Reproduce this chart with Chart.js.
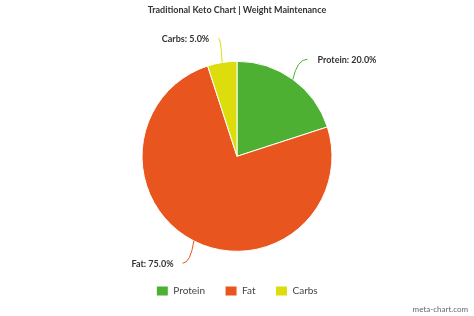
<!DOCTYPE html>
<html>
<head>
<meta charset="utf-8">
<script src="https://cdn.jsdelivr.net/npm/chart.js@4/dist/chart.umd.min.js"></script>
<style>
  html, body { margin: 0; padding: 0; background: #fff; }
  #wrap { position: relative; width: 474px; height: 316px; }
</style>
</head>
<body>
<div id="wrap"><canvas id="keto"></canvas></div>
<script>
const labels = ['Protein', 'Fat', 'Carbs'];
const values = [20, 75, 5];
const colors = ['#4db033', '#e9551e', '#dddd0d'];
const chartTitle = 'Traditional Keto Chart | Weight Maintenance';
const credit = 'meta-chart.com';

const total = values.reduce((a, b) => a + b);

// curved callout labels around the pie
const outLabels = {
    id: 'outLabels',
    afterDatasetsDraw(chart) {
        const ctx = chart.ctx;
        const arcs = chart.getDatasetMeta(0).data;
        ctx.save();
        ctx.font = 'bold 9px Lato';
        ctx.textBaseline = 'middle';
        arcs.forEach(function(arc, i) {
            const p = arc.getProps(['x', 'y', 'startAngle', 'endAngle', 'outerRadius'], true);
            const mid = (p.startAngle + p.endAngle) / 2;
            const x0 = p.x + Math.cos(mid) * p.outerRadius;
            const y0 = p.y + Math.sin(mid) * p.outerRadius;
            const x2 = p.x + Math.cos(mid) * (p.outerRadius + 25);
            const y2 = p.y + Math.sin(mid) * (p.outerRadius + 25);
            const cx = x0 + (x2 - x0) * 0.3;
            ctx.strokeStyle = colors[i];
            ctx.lineWidth = 1;
            ctx.beginPath();
            ctx.moveTo(x0, y0);
            ctx.quadraticCurveTo(cx, y2, x2, y2);
            ctx.stroke();
            const right = Math.cos(mid) >= 0;
            ctx.textAlign = right ? 'left' : 'right';
            ctx.fillStyle = '#333';
            const pct = (values[i] / total * 100).toFixed(1) + '%';
            ctx.fillText(labels[i] + ': ' + pct, x2 + (right ? 10 : -9), y2 + 1);
        });
        ctx.restore();
    },
    afterDraw(chart) {
        const ctx = chart.ctx;
        ctx.save();
        ctx.font = '8px Lato';
        ctx.fillStyle = '#666';
        ctx.textAlign = 'right';
        ctx.textBaseline = 'middle';
        ctx.fillText(credit, 468, 309);
        ctx.restore();
    }
};

new Chart(document.getElementById('keto'), {
    type: 'pie',
    data: {
        labels: labels,
        datasets: [{
            data: values,
            backgroundColor: colors,
            borderColor: '#fff',
            borderWidth: 1,
            radius: 95
        }]
    },
    options: {
        responsive: true,
        maintainAspectRatio: false,
        animation: false,
        layout: { padding: { top: 0, bottom: 10 } },
        plugins: {
            title: {
                display: true,
                text: chartTitle,
                color: '#333',
                font: { family: 'Lato', size: 9, weight: 'bold' },
                padding: { top: 5, bottom: 45 }
            },
            legend: {
                position: 'bottom',
                title: {
                    display: true,
                    text: ' ',
                    font: { size: 1 },
                    padding: { top: 0, bottom: 13 }
                },
                labels: {
                    color: '#444',
                    font: { family: 'Lato', size: 10 },
                    boxWidth: 12,
                    boxHeight: 10,
                    padding: 20
                }
            },
            tooltip: { enabled: false }
        }
    },
    plugins: [outLabels]
});
</script>
</body>
</html>
